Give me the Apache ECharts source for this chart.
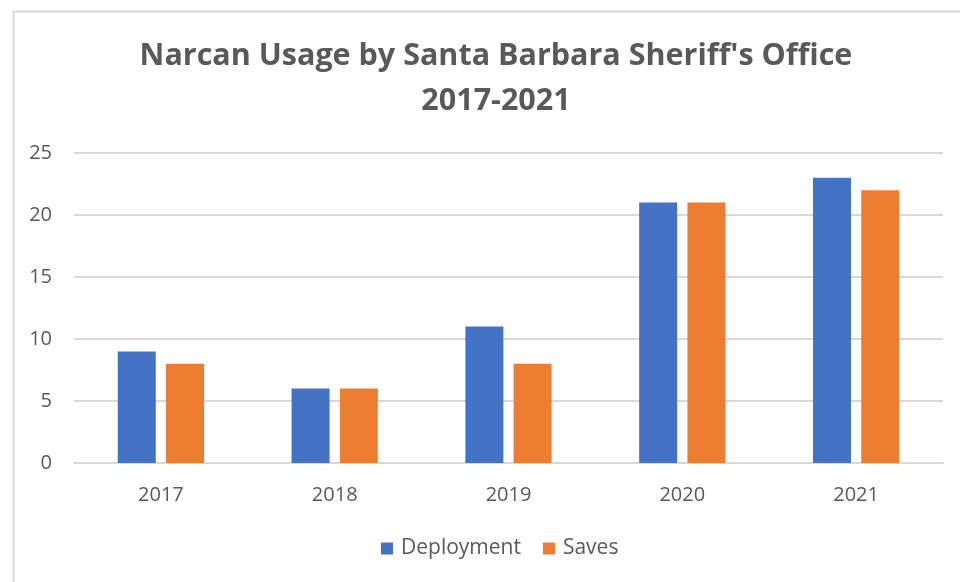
<!DOCTYPE html>
<html><head><meta charset="utf-8">
<script src="https://cdn.jsdelivr.net/npm/echarts@6/dist/echarts.min.js"></script>
<style>html,body{margin:0;padding:0;background:#fff}#c{width:960px;height:582px}</style>
</head><body><div id="c"></div>
<script>
const titleText = "Narcan Usage by Santa Barbara Sheriff's Office\n2017-2021";
const categories = ["2017", "2018", "2019", "2020", "2021"];
const deployment = [9, 6, 11, 21, 23];
const saves = [8, 6, 8, 21, 22];
const yTicks = { min: 0, max: 25, interval: 5 };

const chart = echarts.init(document.getElementById('c'), null, { renderer: 'canvas' });
const txt = '#595959';
const font = "'Open Sans', sans-serif";
chart.setOption({
  backgroundColor: '#fff',
  animation: false,
  graphic: [{
    type: 'rect', left: 11, top: 9, shape: { width: 1000, height: 700 },
    style: { fill: 'none', stroke: '#d9d9d9', lineWidth: 2 }, silent: true
  }],
  title: {
    text: titleText, left: 491, textAlign: 'center', top: 29,
    textStyle: { color: txt, fontFamily: font, fontWeight: 'bold', fontSize: 30.5, lineHeight: 45 }
  },
  legend: {
    bottom: 18, left: 376, itemWidth: 12, itemHeight: 12, itemGap: 22,
    icon: 'rect',
    textStyle: { color: txt, fontFamily: font, fontSize: 21, padding: [0, 0, 0, 3] },
    data: ['Deployment', 'Saves']
  },
  grid: { left: 74, right: 17, top: 153, bottom: 119 },
  xAxis: {
    type: 'category', data: categories,
    axisLine: { lineStyle: { color: '#d9d9d9', width: 2 } },
    axisTick: { show: false },
    axisLabel: { color: txt, fontFamily: font, fontSize: 20, margin: 22 }
  },
  yAxis: {
    type: 'value', min: yTicks.min, max: yTicks.max, interval: yTicks.interval,
    axisLine: { show: false }, axisTick: { show: false },
    axisLabel: { color: txt, fontFamily: font, fontSize: 20, margin: 22 },
    splitLine: { lineStyle: { color: '#d9d9d9', width: 2 } }
  },
  series: [
    { name: 'Deployment', type: 'bar', data: deployment, barWidth: 38, barGap: '27%',
      itemStyle: { color: '#4472C4' } },
    { name: 'Saves', type: 'bar', data: saves, barWidth: 38,
      itemStyle: { color: '#ED7D31' } }
  ]
});
</script></body></html>
